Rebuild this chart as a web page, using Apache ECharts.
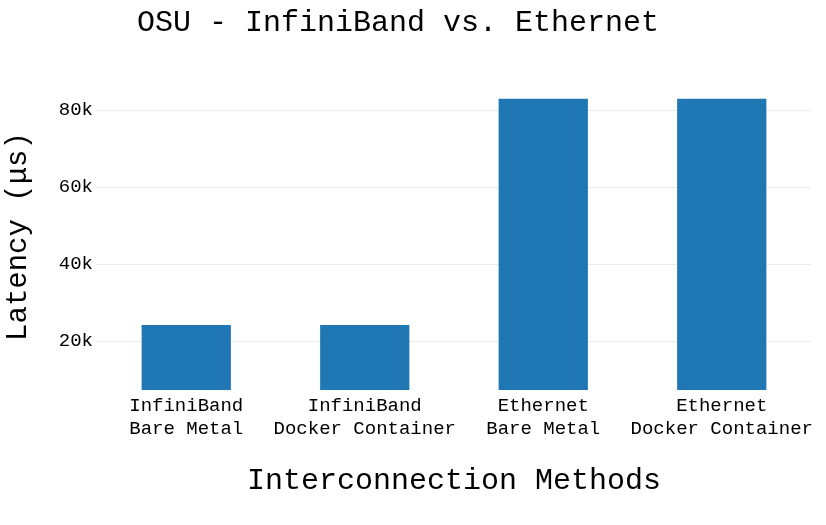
<!DOCTYPE html>
<html><head><meta charset="utf-8">
<script src="https://cdn.jsdelivr.net/npm/echarts@6/dist/echarts.min.js"></script>
<style>html,body{margin:0;padding:0;background:#fff}#c{width:826px;height:525px}</style>
</head><body><div id="c"></div>
<script>
const categories = ["InfiniBand\nBare Metal", "InfiniBand\nDocker Container", "Ethernet\nBare Metal", "Ethernet\nDocker Container"];
const latency = [24200, 24200, 82900, 82900];
const yTicks = [20000, 40000, 60000, 80000];
const yMin = 7300, yMax = 87000;
const FONT = "Liberation Mono";
const chart = echarts.init(document.getElementById('c'));
chart.setOption({
  animation: false,
  title: { text: "OSU - InfiniBand vs. Ethernet", left: 393, top: 3, textAlign: 'center',
    textStyle: { fontFamily: FONT, fontSize: 30, fontWeight: 'normal', color: '#000' } },
  grid: { left: 97, right: 15, top: 83, bottom: 135, outerBoundsMode: 'none', containLabel: false },
  xAxis: { type: 'category', data: categories,
    name: "Interconnection Methods", nameLocation: 'middle', nameGap: 76,
    nameTextStyle: { fontFamily: FONT, fontSize: 30, color: '#000' },
    axisLine: { show: false }, axisTick: { show: false },
    axisLabel: { fontFamily: FONT, fontSize: 19, color: '#000', margin: 4, lineHeight: 23, interval: 0 } },
  yAxis: { type: 'value', min: yMin, max: yMax,
    name: "Latency (μs)", nameLocation: 'middle', nameGap: 64,
    nameTextStyle: { fontFamily: FONT, fontSize: 29, color: '#000' },
    axisLine: { show: false },
    axisTick: { show: false, customValues: yTicks },
    axisLabel: { customValues: yTicks, fontFamily: FONT, fontSize: 19, color: '#000', margin: 4,
      formatter: v => (v/1000) + 'k' },
    splitLine: { show: true, lineStyle: { color: '#ebebeb', width: 1 } } },
  series: [{ type: 'bar', data: latency, barWidth: '50%', itemStyle: { color: '#1f77b4' } }]
});
</script></body></html>
